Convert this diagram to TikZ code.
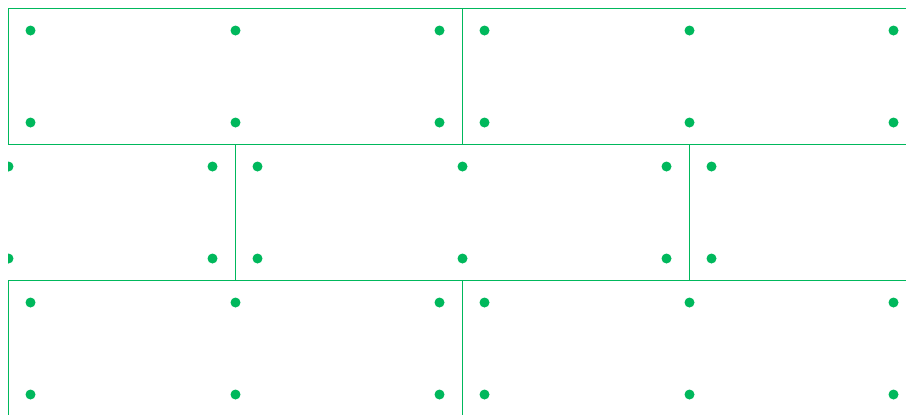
\documentclass[tikz,border=0pt]{standalone}
\usepackage{tikz}
\definecolor{brickgreen}{RGB}{0,184,92}

\begin{document}
\begin{tikzpicture}[
        x=0.02cm, y=-0.02cm,
        % Estilo para los ladrillos
        brick/.style={draw=brickgreen, line width=0.45pt},
        % Estilo para los puntos
        stud/.style={fill=brickgreen}
    ]

        \useasboundingbox (0,0) rectangle (906,414);
        \clip (8,8) rectangle (906,414);

        % Filas de ladrillos: origen x de cada ladrillo, y de la fila
        \foreach \bx/\by in {8.5/8.5, 462.5/8.5, -218.5/144.5, 235.5/144.5, 689.5/144.5, 8.5/280.5, 462.5/280.5} {
            \draw[brick] (\bx,\by) rectangle ++(454,136);
            % Seis puntos por ladrillo
            \foreach \dx in {22, 227, 431} {
                \fill[stud] (\bx+\dx,\by+22) circle (5);
                \fill[stud] (\bx+\dx,\by+114) circle (5);
            }
        }

    \end{tikzpicture}
\end{document}
